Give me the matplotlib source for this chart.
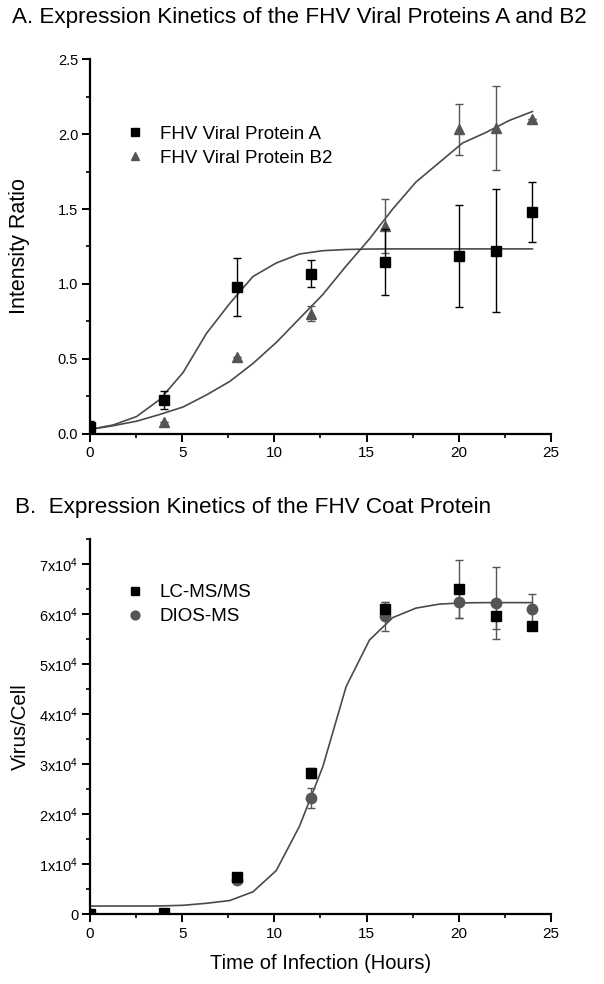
import numpy as np
import matplotlib
matplotlib.use("Agg")
import matplotlib.pyplot as plt
from matplotlib.ticker import MultipleLocator, FuncFormatter

plt.rcParams['font.family'] = ['Liberation Sans', 'DejaVu Sans']
plt.rcParams['mathtext.fontset'] = 'custom'
plt.rcParams['mathtext.rm'] = 'Liberation Sans'
plt.rcParams['mathtext.it'] = 'Liberation Sans:italic'

# ---- panel A data ----
t_a = [0, 4, 8, 12, 16, 20, 22, 24]
prot_a = [0.047, 0.227, 0.98, 1.067, 1.149, 1.187, 1.222, 1.482]
prot_a_err = [0.04, 0.06, 0.195, 0.09, 0.22, 0.34, 0.41, 0.2]
prot_b2 = [0.03, 0.082, 0.515, 0.80, 1.387, 2.033, 2.04, 2.10]
prot_b2_err = [0.0, 0.0, 0.0, 0.05, 0.18, 0.17, 0.28, 0.0]

# fitted curves
fit_t = np.linspace(0, 24, 20)
fit_a = [0.03, 0.06, 0.116, 0.23, 0.41, 0.67, 0.87, 1.05, 1.14, 1.20,
         1.222, 1.23, 1.233, 1.234, 1.234, 1.234, 1.234, 1.234, 1.234, 1.234]
fit_b2 = [0.03, 0.055, 0.085, 0.13, 0.18, 0.26, 0.35, 0.47, 0.61, 0.77,
          0.93, 1.12, 1.30, 1.50, 1.68, 1.81, 1.94, 2.01, 2.09, 2.15]

# ---- panel B data ----
t_b = [0, 4, 8, 12, 16, 20, 22, 24]
lcms = [0, 200, 7500, 28300, 61000, 65100, 59600, 57600]
lcms_err = [0, 0, 500, 1000, 1500, 5800, 2500, 500]
dios = [0, 100, 6800, 23300, 59600, 62400, 62200, 61100]
dios_err = [0, 0, 0, 2000, 2900, 3200, 7200, 3000]
fit_coat = [1600, 1600, 1600, 1620, 1750, 2150, 2700, 4450, 8700, 17600,
            29500, 45500, 54800, 59300, 61200, 62000, 62250, 62300, 62300, 62300]

black = '#000000'
gray = '#555555'
line_gray = '#4a4a4a'

fig = plt.figure(figsize=(6.04, 9.84), dpi=100)
ax1 = fig.add_axes([0.149, 0.559, 0.763, 0.381])
ax2 = fig.add_axes([0.149, 0.0711, 0.763, 0.381])


def style(ax):
    for s in ['top', 'right']:
        ax.spines[s].set_visible(False)
    for s in ['left', 'bottom']:
        ax.spines[s].set_linewidth(1.6)
    ax.tick_params(which='major', length=5.5, width=1.4, direction='out')
    ax.tick_params(which='minor', length=3, width=1.2, direction='out')
    ax.tick_params(axis='x', labelsize=11, pad=3.5)
    ax.tick_params(axis='y', labelsize=10.5, pad=3)
    ax.xaxis.set_major_locator(MultipleLocator(5))
    ax.xaxis.set_minor_locator(MultipleLocator(2.5))
    ax.set_xlim(0, 25)


leg_kw = dict(loc='upper left', frameon=False, fontsize=13.5,
              handlelength=1.0, handletextpad=0.83, borderpad=0,
              borderaxespad=0, labelspacing=0.37, markerscale=0.85)

# panel A
style(ax1)
ax1.plot(fit_t, fit_a, color=line_gray, lw=1.2, zorder=1)
ax1.plot(fit_t, fit_b2, color=line_gray, lw=1.2, zorder=1)
ax1.errorbar(t_a, prot_a, yerr=prot_a_err, fmt='s', color=black, ms=6.5,
             ecolor=black, elinewidth=1, capsize=3, capthick=1,
             label='FHV Viral Protein A', zorder=3)
ax1.errorbar(t_a, prot_b2, yerr=prot_b2_err, fmt='^', color=gray, ms=7.5,
             ecolor=gray, elinewidth=1, capsize=3, capthick=1,
             label='FHV Viral Protein B2', zorder=2)
ax1.set_ylim(0, 2.5)
ax1.yaxis.set_major_locator(MultipleLocator(0.5))
ax1.yaxis.set_minor_locator(MultipleLocator(0.25))
ax1.yaxis.set_major_formatter(FuncFormatter(lambda v, p: f'{v:.1f}'))
ax1.set_ylabel('Intensity Ratio', fontsize=15.5)
ax1.yaxis.set_label_coords(-0.131, 0.5)
h, l = ax1.get_legend_handles_labels()
h = [hh[0] for hh in h]
ax1.legend(h, l, bbox_to_anchor=(0.077, 0.823), **leg_kw)

# panel B
style(ax2)
ax2.plot(fit_t, fit_coat, color=line_gray, lw=1.2, zorder=1)
ax2.errorbar(t_b, lcms, yerr=lcms_err, fmt='s', color=black, ms=6.5,
             ecolor=gray, elinewidth=1, capsize=3, capthick=1,
             label='LC-MS/MS', zorder=3)
ax2.errorbar(t_b, dios, yerr=dios_err, fmt='o', color=gray, ms=7.5,
             ecolor=gray, elinewidth=1, capsize=3, capthick=1,
             label='DIOS-MS', zorder=2)
ax2.set_ylim(0, 75000)
ax2.yaxis.set_major_locator(MultipleLocator(10000))
ax2.yaxis.set_minor_locator(MultipleLocator(5000))


def sci(v, p):
    if v == 0:
        return '0'
    return f'{int(round(v / 10000))}x10$^{{4}}$'


ax2.yaxis.set_major_formatter(FuncFormatter(sci))
ax2.set_ylabel('Virus/Cell', fontsize=14.7)
ax2.yaxis.set_label_coords(-0.131, 0.5)
ax2.set_xlabel('Time of Infection (Hours)', fontsize=14.5)
ax2.xaxis.set_label_coords(0.5, -0.106)
h, l = ax2.get_legend_handles_labels()
h = [hh[0] for hh in h]
ax2.legend(h, l, bbox_to_anchor=(0.077, 0.88), **leg_kw)

fig.text(0.02, 0.982, 'A. Expression Kinetics of the FHV Viral Proteins A and B2',
         fontsize=16.2, ha='left', va='center')
fig.text(0.025, 0.484, 'B.  Expression Kinetics of the FHV Coat Protein',
         fontsize=16.2, ha='left', va='center')

fig.savefig('out.png', dpi=100)
